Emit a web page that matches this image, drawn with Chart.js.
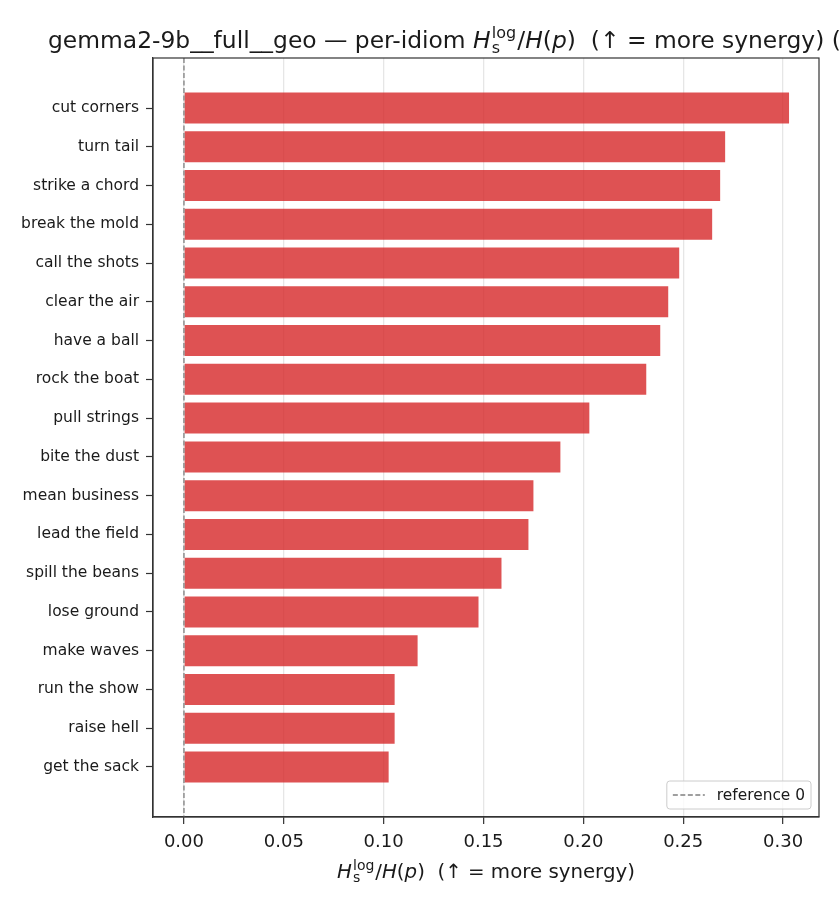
<!DOCTYPE html>
<html>
<head>
<meta charset="utf-8">
<script src="https://cdn.jsdelivr.net/npm/chart.js@4.4.1/dist/chart.umd.min.js"></script>
<style>
  html, body { margin: 0; padding: 0; background: #fff; }
  #wrap { width: 840px; height: 910px; }
</style>
</head>
<body>
<div id="wrap"><canvas id="chart" width="840" height="910"></canvas></div>
<script>
// idioms, top to bottom
const idioms = [
  "cut corners", "turn tail", "strike a chord", "break the mold", "call the shots",
  "clear the air", "have a ball", "rock the boat", "pull strings", "bite the dust",
  "mean business", "lead the field", "spill the beans", "lose ground", "make waves",
  "run the show", "raise hell", "get the sack"
];
// H_s^log / H(p) per idiom
const scores = [
  0.303, 0.271, 0.2685, 0.2645, 0.248,
  0.2425, 0.2385, 0.2315, 0.203, 0.1885,
  0.175, 0.1725, 0.159, 0.1475, 0.117,
  0.1055, 0.1055, 0.1025
];
const referenceValue = 0;
const referenceLabel = "reference 0";

const FONT = '"DejaVu Sans", sans-serif';
const INK = "#1a1a1a";
const FRAME = "#333333";

// text with italic pieces and a stacked sub/superscript block
const measureParts = function (ctx, parts, fs) {
  let w = 0;
  parts.forEach((p) => {
    if (p.sub !== undefined) {
      ctx.font = Math.round(fs * 0.7) + "px " + FONT;
      p.w = Math.max(ctx.measureText(p.sub).width, ctx.measureText(p.sup).width) + fs * 0.1;
    } else {
      ctx.font = (p.it ? "italic " : "") + fs + "px " + FONT;
      p.w = ctx.measureText(p.t).width;
    }
    w += p.w;
  });
  return w;
};

const drawParts = function (ctx, parts, x, y, fs, align) {
  const total = measureParts(ctx, parts, fs);
  let cx = align === "center" ? x - total / 2 : x;
  ctx.save();
  ctx.fillStyle = INK;
  ctx.textAlign = "left";
  ctx.textBaseline = "alphabetic";
  parts.forEach((p) => {
    if (p.sub !== undefined) {
      ctx.font = Math.round(fs * 0.7) + "px " + FONT;
      ctx.fillText(p.sub, cx + fs * 0.05, y + fs * 0.22);
      ctx.fillText(p.sup, cx + fs * 0.05, y - fs * 0.42);
    } else {
      ctx.font = (p.it ? "italic " : "") + fs + "px " + FONT;
      ctx.fillText(p.t, cx, y);
    }
    cx += p.w;
  });
  ctx.restore();
};

const ratioParts = function (prefix, suffix) {
  return [
    { t: prefix },
    { t: "H", it: true },
    { sub: "s", sup: "log" },
    { t: "/" },
    { t: "H", it: true },
    { t: "(" },
    { t: "p", it: true },
    { t: ")" + suffix },
  ];
};

const decorations = {
  id: "decorations",
  afterDatasetsDraw(chart) {
    const ctx = chart.ctx;
    const area = chart.chartArea;
    const x0 = chart.scales.x.getPixelForValue(referenceValue);
    ctx.save();
    ctx.strokeStyle = "#808080";
    ctx.lineWidth = 1.3;
    ctx.setLineDash([5, 2.5]);
    ctx.beginPath();
    ctx.moveTo(x0, area.top);
    ctx.lineTo(x0, area.bottom);
    ctx.stroke();
    ctx.restore();
  },
  afterDraw(chart) {
    const ctx = chart.ctx;
    const area = chart.chartArea;

    // frame
    ctx.save();
    ctx.strokeStyle = FRAME;
    ctx.lineWidth = 1.2;
    ctx.strokeRect(area.left, area.top, area.right - area.left, area.bottom - area.top);
    ctx.restore();

    // title (runs off the right edge like the original)
    drawParts(ctx, ratioParts("gemma2-9b__full__geo \u2014 per-idiom ", "  (\u2191 = more synergy) ("), 48, 48, 23.4, "left");

    // x label
    drawParts(ctx, ratioParts("", "  (\u2191 = more synergy)"), (area.left + area.right) / 2, 878, 19.8, "center");

    // legend
    const fs = 15.4;
    ctx.save();
    ctx.font = fs + "px " + FONT;
    const tw = ctx.measureText(referenceLabel).width;
    const bw = tw + 56, bh = 28;
    const bx = area.right - 8 - bw, by = area.bottom - 8 - bh;
    ctx.fillStyle = "rgba(255,255,255,0.8)";
    ctx.strokeStyle = "#cccccc";
    ctx.lineWidth = 1;
    ctx.beginPath();
    ctx.roundRect(bx, by, bw, bh, 3);
    ctx.fill();
    ctx.stroke();
    ctx.strokeStyle = "#808080";
    ctx.lineWidth = 1.3;
    ctx.setLineDash([5, 2.5]);
    ctx.beginPath();
    ctx.moveTo(bx + 6, by + bh / 2);
    ctx.lineTo(bx + 38, by + bh / 2);
    ctx.stroke();
    ctx.setLineDash([]);
    ctx.fillStyle = INK;
    ctx.textBaseline = "middle";
    ctx.fillText(referenceLabel, bx + 50, by + bh / 2 + 1);
    ctx.restore();
  },
};

new Chart(document.getElementById("chart"), {
  type: "bar",
  data: {
    datasets: [
      {
        label: "score",
        data: scores.map((v, i) => ({ x: v, y: i })),
        backgroundColor: "rgba(214,39,40,0.8)",
        borderWidth: 0,
        barPercentage: 0.8,
        categoryPercentage: 1,
      },
    ],
  },
  options: {
    indexAxis: "y",
    responsive: false,
    devicePixelRatio: 1,
    animation: false,
    layout: { padding: { top: 58, right: 21, bottom: 0, left: 0 } },
    plugins: {
      legend: { display: false },
      title: { display: false },
      tooltip: { enabled: false },
    },
    scales: {
      x: {
        type: "linear",
        min: -0.0155,
        max: 0.318,
        grid: { color: "#e6e6e6", lineWidth: 1.3, tickLength: 7, tickColor: FRAME, tickWidth: 1.2 },
        border: { color: FRAME, width: 1.2 },
        ticks: {
          stepSize: 0.05,
          includeBounds: false,
          maxRotation: 0,
          padding: 8,
          color: INK,
          font: { family: FONT, size: 18 },
          callback: (v) => v.toFixed(2),
        },
        afterFit: (s) => { s.height = 93; },
      },
      y: {
        type: "linear",
        min: -1.29,
        max: 18.29,
        reverse: true,
        offset: false,
        grid: { offset: false, drawOnChartArea: false, tickLength: 7, tickColor: FRAME, tickWidth: 1.2 },
        border: { color: FRAME, width: 1.2 },
        ticks: {
          padding: 7,
          autoSkip: false,
          color: INK,
          font: { family: FONT, size: 15.5 },
          callback: (v) => idioms[v] ?? "",
        },
        afterBuildTicks: (s) => { s.ticks = idioms.map((_, i) => ({ value: i })); },
        afterFit: (s) => { s.width = 153; },
      },
    },
  },
  plugins: [decorations],
});
</script>
</body>
</html>
